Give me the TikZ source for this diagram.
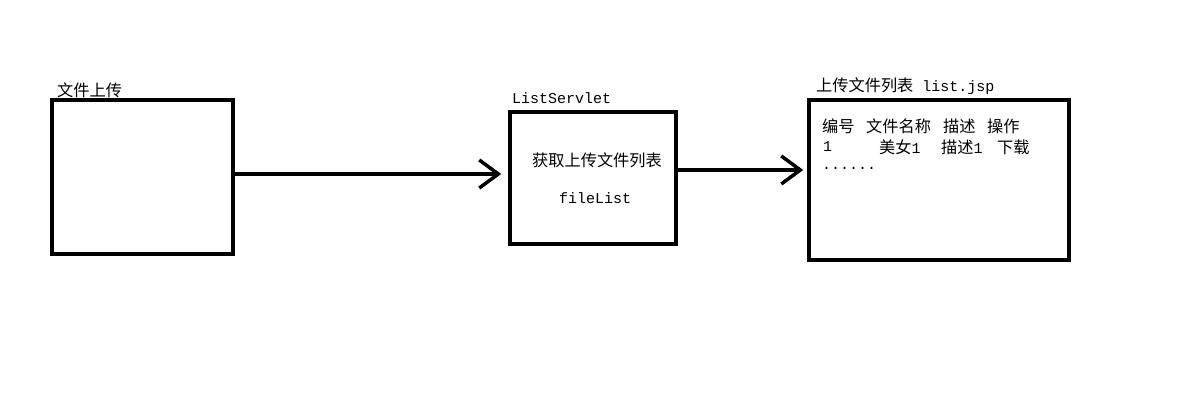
\documentclass[tikz,border=0pt]{standalone}
\usepackage{fontspec}
\setmainfont{Liberation Mono}
\newfontfamily\cjk[Scale=1.08]{Noto Sans CJK SC}
\usetikzlibrary{arrows.meta}
\begin{document}
\begin{tikzpicture}[
		x=1pt,y=-1pt,
		frame/.style={draw,line width=3.5pt,inner sep=0pt},
		flow/.style={line width=3.5pt,-{Straight Barb[length=19pt,width=28pt]}},
		txt/.style={inner sep=0pt,anchor=west,font=\fontsize{15}{17}\selectfont},
		mid/.style={txt,anchor=center}
	]
	\useasboundingbox (0,0) rectangle (1182,404);
	% boxes
	\node[frame,minimum width=181pt,minimum height=154pt] (upload) at (142.5,177) {};
	\node[frame,minimum width=166pt,minimum height=132pt] (servlet) at (593,178) {};
	\node[frame,minimum width=260pt,minimum height=160pt] (list) at (939,180) {};
	% titles
	\node[txt] (uploadtitle) at (57,90) {\cjk 文件上传};
	\node[txt] (servlettitle) at (512,98) {ListServlet};
	\node[txt] (listtitle) at (816,86) {{\cjk 上传文件列表} list.jsp};
	% servlet text
	\node[mid] (fetch) at (597,160) {\cjk 获取上传文件列表};
	\node[mid] (filelist) at (595,198) {fileList};
	% table in list.jsp
	\node[txt] (hno) at (822,126) {\cjk 编号};
	\node[txt] (hname) at (866,126) {\cjk 文件名称};
	\node[txt] (hdesc) at (943,126) {\cjk 描述};
	\node[txt] (hop) at (987,126) {\cjk 操作};
	\node[txt] (rno) at (823,147) {1};
	\node[txt] (rname) at (879,147) {{\cjk 美女}1};
	\node[txt] (rdesc) at (941,147) {{\cjk 描述}1};
	\node[txt] (rop) at (997,147) {\cjk 下载};
	\node[txt] (more) at (822,168) {......};
	% arrows
	\draw[flow,shorten >=7pt] ([yshift=3pt]upload.east) -- ([yshift=4pt]servlet.west);
	\draw[flow,shorten >=4pt] ([yshift=8pt]servlet.east) -- ([yshift=10pt]list.west);
\end{tikzpicture}
\end{document}
